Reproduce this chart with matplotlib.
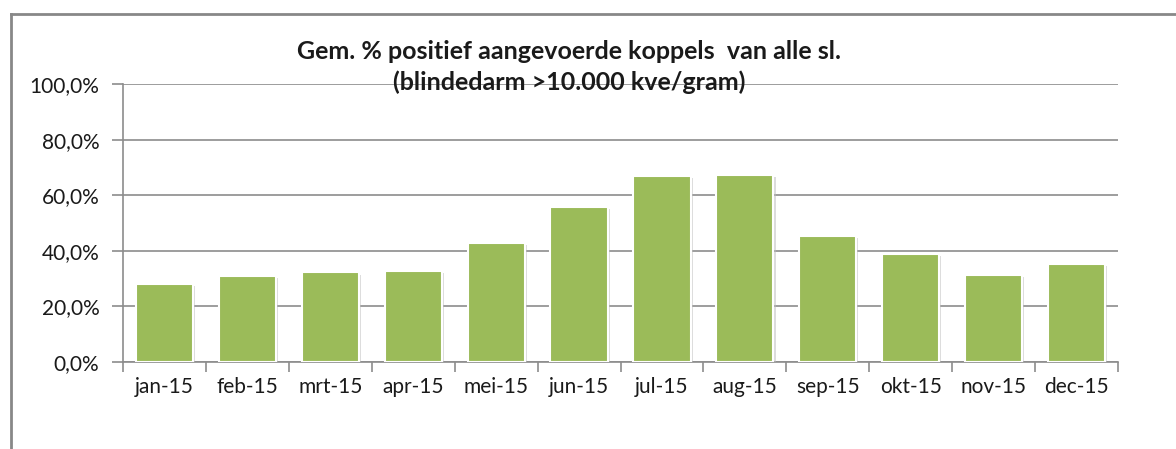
import matplotlib.pyplot as plt
import matplotlib.patheffects as pe
from matplotlib.lines import Line2D
from matplotlib.ticker import FuncFormatter, FixedLocator
import numpy as np

months = ['jan-15', 'feb-15', 'mrt-15', 'apr-15', 'mei-15', 'jun-15',
          'jul-15', 'aug-15', 'sep-15', 'okt-15', 'nov-15', 'dec-15']
pct_positief = [28.1, 31.0, 32.2, 32.7, 42.9, 55.9, 66.8, 67.3, 45.5, 39.0, 31.4, 35.4]

title = 'Gem. % positief aangevoerde koppels  van alle sl.\n(blindedarm >10.000 kve/gram)'

plt.rcParams['font.family'] = ['Lato', 'DejaVu Sans']

fig = plt.figure(figsize=(11.76, 4.49), dpi=100)
ax = fig.add_axes([123 / 1176, 1 - 362 / 449, (1118 - 123) / 1176, (362 - 84) / 449])

x = np.arange(len(months))
vals = np.array(pct_positief) / 100.0
bars = ax.bar(x, vals, width=0.69, color='#9BBB59', edgecolor='white', linewidth=1.5, zorder=3)
for b in bars:
    b.set_path_effects([pe.SimplePatchShadow(offset=(1.5, -1.5), shadow_rgbFace='#bbbbbb', alpha=0.5), pe.Normal()])

ax.set_xlim(-0.5, len(months) - 0.5)
ax.set_ylim(0, 1.0)
ax.set_yticks(np.arange(0, 1.01, 0.2))
ax.yaxis.set_major_formatter(FuncFormatter(lambda v, p: ('%.1f%%' % (v * 100)).replace('.', ',')))
ax.yaxis.grid(True, color='#8c8c8c', linewidth=1.2, zorder=0)
ax.set_axisbelow(True)

ax.set_xticks(x)
ax.set_xticklabels(months)
ax.xaxis.set_minor_locator(FixedLocator(np.arange(-0.5, len(months), 1.0)))
ax.tick_params(axis='x', which='major', length=0, pad=11, labelsize=15, labelcolor='#1a1a1a')
ax.tick_params(axis='x', which='minor', length=7, color='#8c8c8c', width=1.2)
ax.tick_params(axis='y', length=8, color='#8c8c8c', width=1.2, pad=9, labelsize=15, labelcolor='#1a1a1a')

for s in ['top', 'right']:
    ax.spines[s].set_visible(False)
for s in ['left', 'bottom']:
    ax.spines[s].set_color('#8c8c8c')
    ax.spines[s].set_linewidth(1.2)

fig.text(569 / 1176, 1 - 67 / 449, title, ha='center', va='center', fontsize=18,
         fontweight='bold', color='#1a1a1a', linespacing=1.4)

# outer chart border (only left and top edges visible in the crop)
fig.add_artist(Line2D([10.5 / 1176, 10.5 / 1176], [0, 1 - 14 / 449], color='#888888', linewidth=2))
fig.add_artist(Line2D([10.5 / 1176, 1], [1 - 14 / 449, 1 - 14 / 449], color='#888888', linewidth=2))

fig.savefig('out.png', dpi=100)
